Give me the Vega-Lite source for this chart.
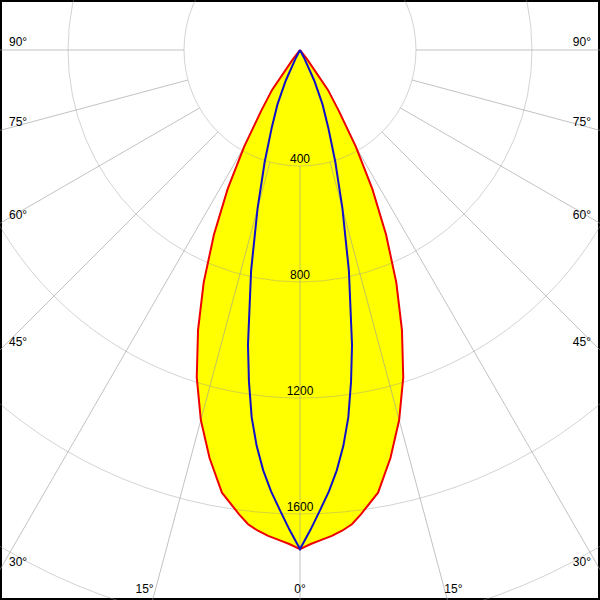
{
  "$schema": "https://vega.github.io/schema/vega-lite/v6.json",
  "width": 600,
  "height": 600,
  "autosize": {"type": "fit", "contains": "padding"},
  "padding": 0,
  "background": "white",
  "view": {"stroke": "black", "strokeWidth": 4},
  "config": {"view": {"stroke": "black", "strokeWidth": 4}, "font": "Liberation Sans"},
  "datasets": {
    "curves": [
      {"c": "C0", "deg": -90, "cd": 0}, {"c": "C0", "deg": -40, "cd": 0}, {"c": "C0", "deg": -37.5, "cd": 40},
      {"c": "C0", "deg": -35, "cd": 168}, {"c": "C0", "deg": -32.5, "cd": 250}, {"c": "C0", "deg": -30, "cd": 385},
      {"c": "C0", "deg": -27.5, "cd": 540}, {"c": "C0", "deg": -25, "cd": 702}, {"c": "C0", "deg": -22.5, "cd": 868},
      {"c": "C0", "deg": -20, "cd": 1028}, {"c": "C0", "deg": -17.5, "cd": 1184}, {"c": "C0", "deg": -15, "cd": 1321},
      {"c": "C0", "deg": -12.5, "cd": 1441}, {"c": "C0", "deg": -10, "cd": 1550}, {"c": "C0", "deg": -7.5, "cd": 1614},
      {"c": "C0", "deg": -6.25, "cd": 1645}, {"c": "C0", "deg": -5, "cd": 1664}, {"c": "C0", "deg": -3.75, "cd": 1679},
      {"c": "C0", "deg": -2.5, "cd": 1691}, {"c": "C0", "deg": -1.25, "cd": 1704}, {"c": "C0", "deg": 0, "cd": 1721},
      {"c": "C0", "deg": 1.25, "cd": 1704}, {"c": "C0", "deg": 2.5, "cd": 1691}, {"c": "C0", "deg": 3.75, "cd": 1679},
      {"c": "C0", "deg": 5, "cd": 1664}, {"c": "C0", "deg": 6.25, "cd": 1645}, {"c": "C0", "deg": 7.5, "cd": 1614},
      {"c": "C0", "deg": 10, "cd": 1550}, {"c": "C0", "deg": 12.5, "cd": 1441}, {"c": "C0", "deg": 15, "cd": 1321},
      {"c": "C0", "deg": 17.5, "cd": 1184}, {"c": "C0", "deg": 20, "cd": 1028}, {"c": "C0", "deg": 22.5, "cd": 868},
      {"c": "C0", "deg": 25, "cd": 702}, {"c": "C0", "deg": 27.5, "cd": 540}, {"c": "C0", "deg": 30, "cd": 385},
      {"c": "C0", "deg": 32.5, "cd": 250}, {"c": "C0", "deg": 35, "cd": 168}, {"c": "C0", "deg": 37.5, "cd": 40},
      {"c": "C0", "deg": 40, "cd": 0}, {"c": "C0", "deg": 90, "cd": 0},
      {"c": "C90", "deg": -90, "cd": 0}, {"c": "C90", "deg": -30, "cd": 0}, {"c": "C90", "deg": -27.5, "cd": 30},
      {"c": "C90", "deg": -25, "cd": 116}, {"c": "C90", "deg": -22.5, "cd": 203}, {"c": "C90", "deg": -20, "cd": 285},
      {"c": "C90", "deg": -17.5, "cd": 405}, {"c": "C90", "deg": -15, "cd": 565}, {"c": "C90", "deg": -12.5, "cd": 779},
      {"c": "C90", "deg": -10, "cd": 1033}, {"c": "C90", "deg": -8.75, "cd": 1157}, {"c": "C90", "deg": -7.5, "cd": 1277},
      {"c": "C90", "deg": -6.25, "cd": 1373}, {"c": "C90", "deg": -5, "cd": 1455}, {"c": "C90", "deg": -3.75, "cd": 1525},
      {"c": "C90", "deg": -2.5, "cd": 1588}, {"c": "C90", "deg": -1.25, "cd": 1655}, {"c": "C90", "deg": 0, "cd": 1721},
      {"c": "C90", "deg": 1.25, "cd": 1655}, {"c": "C90", "deg": 2.5, "cd": 1588}, {"c": "C90", "deg": 3.75, "cd": 1525},
      {"c": "C90", "deg": 5, "cd": 1455}, {"c": "C90", "deg": 6.25, "cd": 1373}, {"c": "C90", "deg": 7.5, "cd": 1277},
      {"c": "C90", "deg": 8.75, "cd": 1157}, {"c": "C90", "deg": 10, "cd": 1033}, {"c": "C90", "deg": 12.5, "cd": 779},
      {"c": "C90", "deg": 15, "cd": 565}, {"c": "C90", "deg": 17.5, "cd": 405}, {"c": "C90", "deg": 20, "cd": 285},
      {"c": "C90", "deg": 22.5, "cd": 203}, {"c": "C90", "deg": 25, "cd": 116}, {"c": "C90", "deg": 27.5, "cd": 30},
      {"c": "C90", "deg": 30, "cd": 0}, {"c": "C90", "deg": 90, "cd": 0}
    ],
    "rings": [{"ring": 400}, {"ring": 800}, {"ring": 1200}, {"ring": 1600}, {"ring": 2000}],
    "spokes": [
      {"deg": -90}, {"deg": -75}, {"deg": -60}, {"deg": -45}, {"deg": -30}, {"deg": -15}, {"deg": 0},
      {"deg": 15}, {"deg": 30}, {"deg": 45}, {"deg": 60}, {"deg": 75}, {"deg": 90}
    ]
  },
  "encoding": {
    "x": {"type": "quantitative", "scale": {"domain": [-1034.48, 1034.48], "nice": false, "zero": false}, "axis": null},
    "y": {"type": "quantitative", "scale": {"domain": [-1896.55, 172.41], "nice": false, "zero": false}, "axis": null}
  },
  "layer": [
    {
      "data": {"name": "curves"},
      "transform": [
        {"filter": "datum.c === 'C0'"},
        {"calculate": "datum.cd * sin(datum.deg * PI / 180)", "as": "px"},
        {"calculate": "-datum.cd * cos(datum.deg * PI / 180)", "as": "py"}
      ],
      "mark": {"type": "line", "fill": "#ffff00", "stroke": null, "strokeWidth": 0},
      "encoding": {
        "x": {"field": "px", "type": "quantitative"},
        "y": {"field": "py", "type": "quantitative"},
        "order": {"field": "deg", "type": "quantitative"}
      }
    },
    {
      "data": {"name": "rings"},
      "mark": {"type": "point", "shape": "circle", "filled": false, "stroke": "#9a9a9a", "strokeWidth": 1, "strokeOpacity": 0.6, "clip": true},
      "encoding": {
        "x": {"datum": 0, "type": "quantitative"},
        "y": {"datum": 0, "type": "quantitative"},
        "size": {"field": "ring", "type": "quantitative", "scale": {"type": "pow", "exponent": 2, "domain": [0, 2000], "range": [0, 1345600], "zero": true}, "legend": null}
      }
    },
    {
      "data": {"name": "spokes"},
      "transform": [
        {"calculate": "400 * sin(datum.deg * PI / 180)", "as": "x1"},
        {"calculate": "-400 * cos(datum.deg * PI / 180)", "as": "y1"},
        {"calculate": "3000 * sin(datum.deg * PI / 180)", "as": "x2"},
        {"calculate": "-3000 * cos(datum.deg * PI / 180)", "as": "y2"}
      ],
      "mark": {"type": "rule", "stroke": "#9a9a9a", "strokeWidth": 1, "strokeOpacity": 0.6, "clip": true},
      "encoding": {
        "x": {"field": "x1", "type": "quantitative"},
        "y": {"field": "y1", "type": "quantitative"},
        "x2": {"field": "x2"},
        "y2": {"field": "y2"}
      }
    },
    {
      "data": {"name": "rings"},
      "transform": [
        {"filter": "datum.ring <= 1600"},
        {"calculate": "-datum.ring", "as": "ry"}
      ],
      "mark": {"type": "text", "fontSize": 12, "baseline": "alphabetic", "align": "center", "dy": -3, "color": "black"},
      "encoding": {
        "x": {"datum": 0, "type": "quantitative"},
        "y": {"field": "ry", "type": "quantitative"},
        "text": {"field": "ring", "type": "nominal"}
      }
    },
    {
      "data": {"name": "curves"},
      "transform": [
        {"filter": "datum.c === 'C0'"},
        {"calculate": "datum.cd * sin(datum.deg * PI / 180)", "as": "px"},
        {"calculate": "-datum.cd * cos(datum.deg * PI / 180)", "as": "py"}
      ],
      "mark": {"type": "line", "stroke": "#ee0000", "strokeWidth": 2},
      "encoding": {
        "x": {"field": "px", "type": "quantitative"},
        "y": {"field": "py", "type": "quantitative"},
        "order": {"field": "deg", "type": "quantitative"}
      }
    },
    {
      "data": {"name": "curves"},
      "transform": [
        {"filter": "datum.c === 'C90'"},
        {"calculate": "datum.cd * sin(datum.deg * PI / 180)", "as": "px"},
        {"calculate": "-datum.cd * cos(datum.deg * PI / 180)", "as": "py"}
      ],
      "mark": {"type": "line", "stroke": "#1010c8", "strokeWidth": 2},
      "encoding": {
        "x": {"field": "px", "type": "quantitative"},
        "y": {"field": "py", "type": "quantitative"},
        "order": {"field": "deg", "type": "quantitative"}
      }
    },
    {
      "data": {"name": "spokes"},
      "transform": [
        {"filter": "datum.deg <= -30"},
        {"calculate": "-1034.48", "as": "lx"},
        {"calculate": "-1034.48 * cos(abs(datum.deg) * PI / 180) / sin(abs(datum.deg) * PI / 180)", "as": "ly"},
        {"calculate": "abs(datum.deg) + '°'", "as": "lab"}
      ],
      "mark": {"type": "text", "fontSize": 12, "align": "left", "baseline": "alphabetic", "dx": 9, "dy": -4, "color": "black"},
      "encoding": {
        "x": {"field": "lx", "type": "quantitative"},
        "y": {"field": "ly", "type": "quantitative"},
        "text": {"field": "lab", "type": "nominal"}
      }
    },
    {
      "data": {"name": "spokes"},
      "transform": [
        {"filter": "datum.deg >= 30"},
        {"calculate": "1034.48", "as": "lx"},
        {"calculate": "-1034.48 * cos(abs(datum.deg) * PI / 180) / sin(abs(datum.deg) * PI / 180)", "as": "ly"},
        {"calculate": "abs(datum.deg) + '°'", "as": "lab"}
      ],
      "mark": {"type": "text", "fontSize": 12, "align": "right", "baseline": "alphabetic", "dx": -9, "dy": -4, "color": "black"},
      "encoding": {
        "x": {"field": "lx", "type": "quantitative"},
        "y": {"field": "ly", "type": "quantitative"},
        "text": {"field": "lab", "type": "nominal"}
      }
    },
    {
      "data": {"name": "spokes"},
      "transform": [
        {"filter": "datum.deg === -15"},
        {"calculate": "1896.55 * tan(datum.deg * PI / 180)", "as": "lx"},
        {"calculate": "-1896.55", "as": "ly"},
        {"calculate": "abs(datum.deg) + '°'", "as": "lab"}
      ],
      "mark": {"type": "text", "fontSize": 12, "align": "right", "baseline": "alphabetic", "dx": 1, "dy": -7, "color": "black"},
      "encoding": {
        "x": {"field": "lx", "type": "quantitative"},
        "y": {"field": "ly", "type": "quantitative"},
        "text": {"field": "lab", "type": "nominal"}
      }
    },
    {
      "data": {"name": "spokes"},
      "transform": [
        {"filter": "datum.deg === 0"},
        {"calculate": "1896.55 * tan(datum.deg * PI / 180)", "as": "lx"},
        {"calculate": "-1896.55", "as": "ly"},
        {"calculate": "abs(datum.deg) + '°'", "as": "lab"}
      ],
      "mark": {"type": "text", "fontSize": 12, "align": "center", "baseline": "alphabetic", "dy": -7, "color": "black"},
      "encoding": {
        "x": {"field": "lx", "type": "quantitative"},
        "y": {"field": "ly", "type": "quantitative"},
        "text": {"field": "lab", "type": "nominal"}
      }
    },
    {
      "data": {"name": "spokes"},
      "transform": [
        {"filter": "datum.deg === 15"},
        {"calculate": "1896.55 * tan(datum.deg * PI / 180)", "as": "lx"},
        {"calculate": "-1896.55", "as": "ly"},
        {"calculate": "abs(datum.deg) + '°'", "as": "lab"}
      ],
      "mark": {"type": "text", "fontSize": 12, "align": "left", "baseline": "alphabetic", "dx": -3, "dy": -7, "color": "black"},
      "encoding": {
        "x": {"field": "lx", "type": "quantitative"},
        "y": {"field": "ly", "type": "quantitative"},
        "text": {"field": "lab", "type": "nominal"}
      }
    }
  ]
}
